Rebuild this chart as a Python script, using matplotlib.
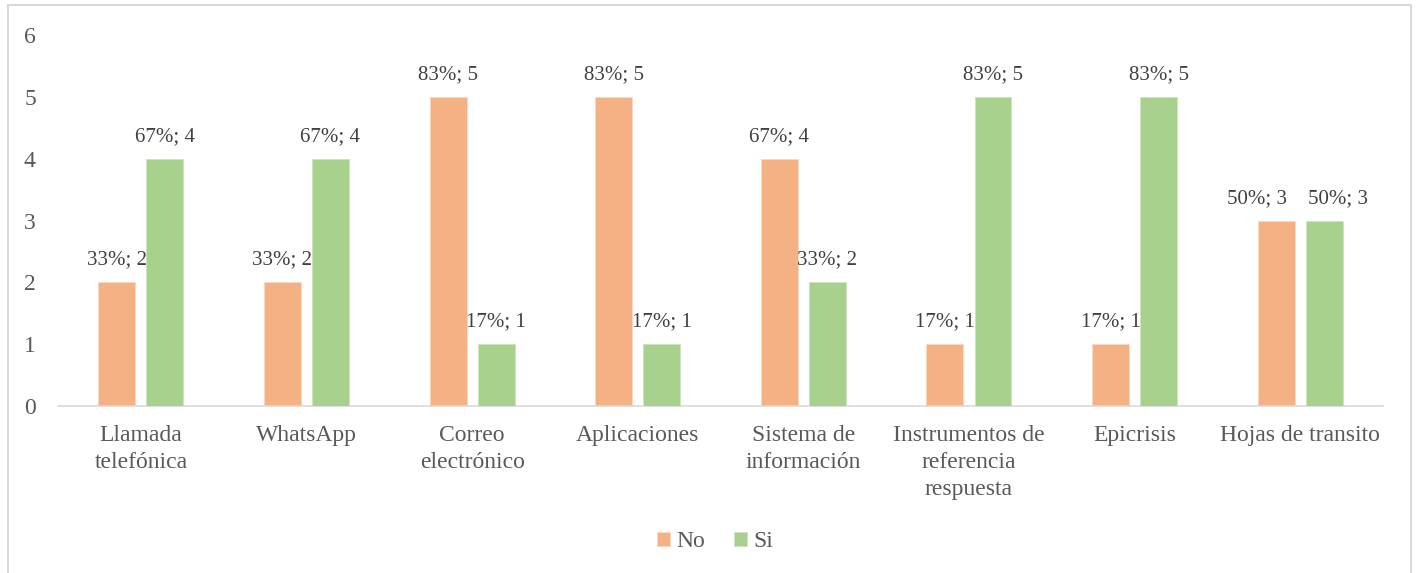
import numpy as np
import matplotlib.pyplot as plt
from matplotlib.patches import Rectangle

plt.rcParams['font.family'] = ['Liberation Serif', 'DejaVu Serif']

categorias = ["Llamada\ntelefónica", "WhatsApp", "Correo\nelectrónico", "Aplicaciones",
              "Sistema de\ninformación", "Instrumentos de\nreferencia\nrespuesta",
              "Epicrisis", "Hojas de transito"]
no_vals = [2, 2, 5, 5, 4, 1, 1, 3]
si_vals = [4, 4, 1, 1, 2, 5, 5, 3]
no_pct = ["33%", "33%", "83%", "83%", "67%", "17%", "17%", "50%"]
si_pct = ["67%", "67%", "17%", "17%", "33%", "83%", "83%", "50%"]

c_no = '#F4B183'
c_si = '#A9D18E'
gris = '#595959'

fig = plt.figure(figsize=(14.16, 5.73), dpi=100)
ax = fig.add_axes([0.041, 0.2914, 0.9357, 0.6475])

x = np.arange(len(categorias))
w = 0.223
off = 0.145
b1 = ax.bar(x - off, no_vals, w, color=c_no, edgecolor='#FAD7C0', linewidth=0.6,
            label='No', zorder=2)
b2 = ax.bar(x + off, si_vals, w, color=c_si, edgecolor='#CDE5BD', linewidth=0.6,
            label='Si', zorder=4)

# etiquetas de datos; las del último grupo se separan para que no se pisen
desp = {('No', 7): -14, ('Si', 7): 10}
for serie, bars, vals, pcts, z in [('No', b1, no_vals, no_pct, 3), ('Si', b2, si_vals, si_pct, 5)]:
    for i, (b, v, p) in enumerate(zip(bars, vals, pcts)):
        ax.annotate(f"{p}; {v}", (b.get_x() + b.get_width() / 2, v),
                    xytext=(desp.get((serie, i), 0), 16), textcoords='offset points',
                    ha='center', va='center', fontsize=15, color='#404040', zorder=z)

ax.set_xlim(-0.5, len(categorias) - 0.5)
ax.set_ylim(0, 6)
ax.set_yticks(range(7))
ax.set_xticks(x)
ax.set_xticklabels(categorias, fontsize=17, color=gris, linespacing=1.36)
ax.tick_params(axis='y', length=0, pad=16, labelsize=17, labelcolor=gris)
ax.tick_params(axis='x', length=0, pad=14)
for s in ['top', 'right', 'left']:
    ax.spines[s].set_visible(False)
ax.spines['bottom'].set_color('#D9D9D9')
ax.spines['bottom'].set_linewidth(1.2)

leg = fig.legend(handles=[b1, b2], loc='center', bbox_to_anchor=(0.505, 0.055), ncol=2,
                 frameon=False, fontsize=17, handlelength=0.55, handleheight=0.55,
                 handletextpad=0.3, columnspacing=1.2)
for t in leg.get_texts():
    t.set_color(gris)

# marco del gráfico
fig.patches.append(Rectangle((8 / 1416, -0.05), 1403 / 1416, 1.05 - 5 / 573,
                             transform=fig.transFigure, fill=False,
                             edgecolor='#D9D9D9', linewidth=1.5))

fig.savefig('out.png', dpi=100)
